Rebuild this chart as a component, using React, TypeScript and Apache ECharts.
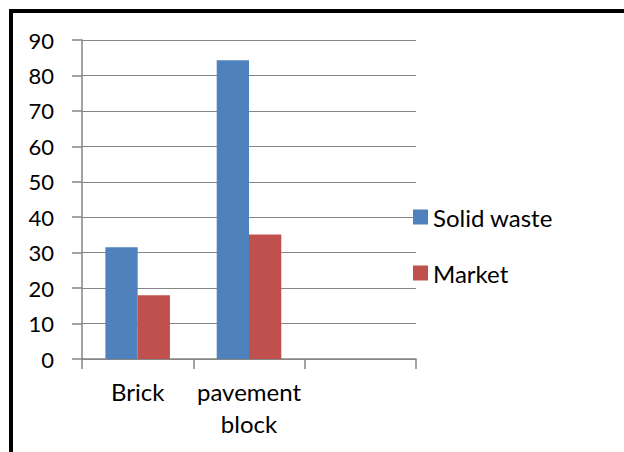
import React, { useEffect, useRef } from "react";
import * as echarts from "echarts";

const categories = ["Brick", "pavement\nblock", ""];
const solidWaste = [31.5, 84.3, null];
const market = [18, 35.1, null];
const seriesNames = ["Solid waste", "Market"];

export default function App() {
  const ref = useRef<HTMLDivElement>(null);
  useEffect(() => {
    const chart = echarts.init(ref.current!, null, { renderer: "svg" });
    chart.setOption({
      animation: false,
      textStyle: { fontFamily: "Lato", color: "#000" },
      graphic: [
        {
          type: "rect",
          shape: { x: 11, y: 11, width: 640, height: 480 },
          style: { fill: "none", stroke: "#000", lineWidth: 4 },
          silent: true,
        },
      ],
      grid: { left: 82, right: 208, top: 40, bottom: 93, containLabel: false },
      legend: {
        orient: "vertical",
        left: 413,
        top: 205,
        padding: 0,
        itemWidth: 15,
        itemHeight: 15,
        itemGap: 32,
        icon: "rect",
        textStyle: { fontFamily: "Lato", fontSize: 24, color: "#000" },
        data: seriesNames,
      },
      xAxis: {
        type: "category",
        data: categories,
        axisLine: { lineStyle: { color: "#868686", width: 1.5 } },
        axisTick: { show: true, length: 10, lineStyle: { color: "#868686", width: 1.5 } },
        axisLabel: {
          fontFamily: "Lato",
          fontSize: 24,
          color: "#000",
          margin: 16,
          lineHeight: 32,
          interval: 0,
        },
      },
      yAxis: {
        type: "value",
        min: 0,
        max: 90,
        interval: 10,
        axisLine: { show: true, lineStyle: { color: "#868686", width: 1.5 } },
        axisTick: { show: true, length: 10, lineStyle: { color: "#868686", width: 1.5 } },
        splitLine: { show: true, lineStyle: { color: "#868686", width: 1.2 } },
        axisLabel: { fontFamily: "Lato", fontSize: 22, color: "#000", margin: 28 },
      },
      series: [
        {
          name: seriesNames[0],
          type: "bar",
          data: solidWaste,
          itemStyle: { color: "#4F81BD" },
          barGap: "0%",
          barCategoryGap: "42%",
        },
        {
          name: seriesNames[1],
          type: "bar",
          data: market,
          itemStyle: { color: "#C0504D" },
          barGap: "0%",
          barCategoryGap: "42%",
        },
      ],
    });
    return () => chart.dispose();
  }, []);
  return (
    <div
      ref={ref}
      style={{ position: "fixed", left: 0, top: 0, width: 624, height: 452, background: "#fff" }}
    />
  );
}
